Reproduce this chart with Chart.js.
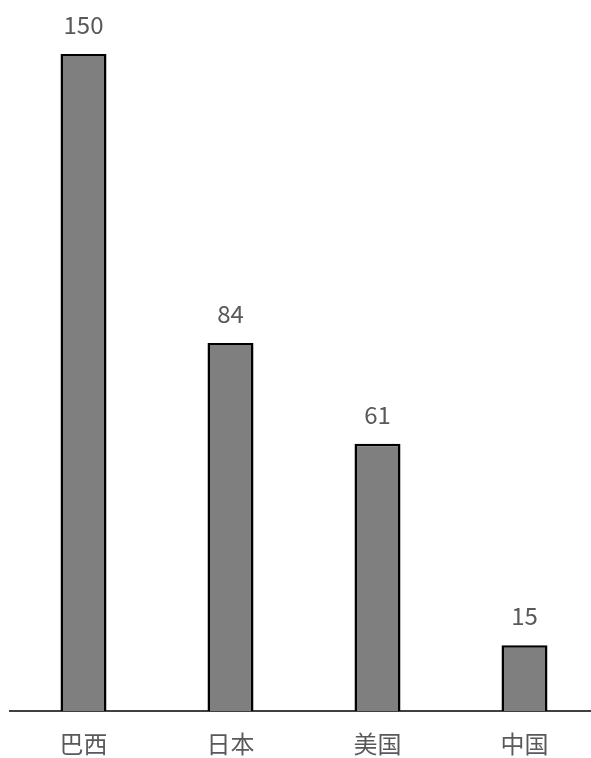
<!DOCTYPE html>
<html>
<head>
<meta charset="utf-8">
<script src="https://cdn.jsdelivr.net/npm/chart.js@4"></script>
<style>
  html, body { margin: 0; padding: 0; background: #fff; overflow: hidden; }
  #wrap { width: 598px; height: 758px; position: relative; }
</style>
</head>
<body>
<div id="wrap"><canvas id="c"></canvas></div>
<script>
const categories = ['巴西', '日本', '美国', '中国'];
const values = [150, 84, 61, 15];

const FONT = '"Noto Sans CJK SC", "Noto Sans", sans-serif';
const TEXT = '#595959';

// value labels above each bar
const barLabels = {
  id: 'barLabels',
  afterDatasetsDraw(chart) {
    const ctx = chart.ctx;
    const meta = chart.getDatasetMeta(0);
    ctx.save();
    ctx.font = '24px ' + FONT;
    ctx.fillStyle = TEXT;
    ctx.textAlign = 'center';
    ctx.textBaseline = 'bottom';
    meta.data.forEach((bar, i) => {
      ctx.fillText(String(values[i]), bar.x, bar.y - 17);
    });
    ctx.restore();
  }
};

new Chart(document.getElementById('c'), {
  type: 'bar',
  data: {
    labels: categories,
    datasets: [{
      data: values,
      backgroundColor: '#7f7f7f',
      borderColor: '#000',
      borderWidth: 2.5,
      categoryPercentage: 1,
      barPercentage: 0.313,
    }]
  },
  options: {
    responsive: true, maintainAspectRatio: false,
    animation: false,
    layout: { padding: { top: 54, left: 10, right: 0, bottom: 0 } },
    plugins: { legend: { display: false }, tooltip: { enabled: false } },
    scales: {
      x: {
        grid: { display: false, drawTicks: false },
        border: { display: true, color: '#404040', width: 2 },
        ticks: { color: TEXT, font: { family: FONT, size: 24 }, padding: 18 },
        afterFit(scale) { scale.height = 47; },
      },
      y: { display: false, min: 0, max: 150 },
    }
  },
  plugins: [barLabels]
});
</script>
</body>
</html>
